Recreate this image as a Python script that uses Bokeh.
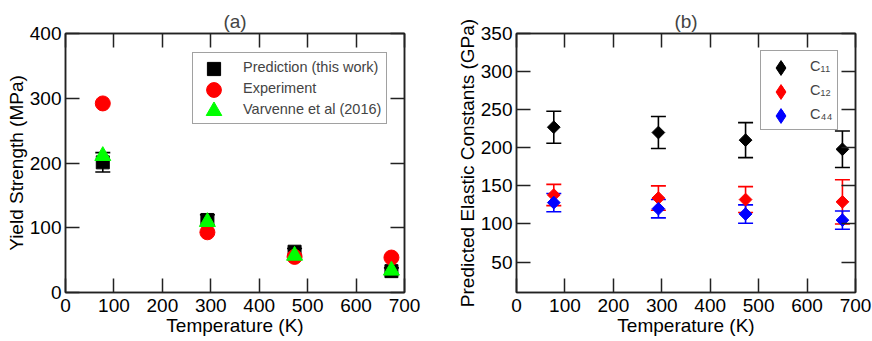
from bokeh.plotting import figure
from bokeh.models import (Range1d, LinearAxis, FixedTicker, Whisker, TeeHead,
                          ColumnDataSource, Legend, LegendItem)
from bokeh.layouts import row
from bokeh.embed import file_html
from bokeh.resources import INLINE
import numpy as np

# ---------------- data ----------------
temps = [77, 293, 473, 673]

pred = [201, 112, 63, 33]
pred_err = [15, 8, 5, 5]
exper = [292, 93, 55, 54]
varv = [211, 109, 57, 34]

c11 = [227, 220, 210, 198]
c11_err = [21, 21, 23, 24]
c12 = [138, 134, 132, 129]
c12_err = [14, 16, 17, 29]
c44 = [128, 120, 113, 105]
c44_err = [12, 12, 12, 12]

x_ticks = [0, 100, 200, 300, 400, 500, 600, 700]
ya_ticks = [0, 100, 200, 300, 400]
yb_ticks = [50, 100, 150, 200, 250, 300, 350]

FONT = "Liberation Sans"
FS = "19px"
LINE = "#222222"
H = 341
TOP = 33
BOTTOM = 49
FRAME_W = 339
X_RANGE = (0, 700)


def style_axis(ax, lab_standoff=4, ax_standoff=0, labels=True):
    ax.major_tick_in = 14
    ax.major_tick_out = 0
    ax.minor_tick_line_color = None
    ax.major_tick_line_color = LINE
    ax.major_tick_line_width = 1.5
    ax.axis_line_color = LINE
    ax.axis_line_width = 1.5
    ax.major_label_text_font = FONT
    ax.major_label_text_font_size = FS
    ax.major_label_text_color = "black"
    ax.axis_label_text_font = FONT
    ax.axis_label_text_font_size = FS
    ax.axis_label_text_font_style = "normal"
    ax.axis_label_text_color = "black"
    ax.major_label_standoff = lab_standoff
    ax.axis_label_standoff = ax_standoff
    if not labels:
        ax.major_label_text_color = None
        ax.major_label_standoff = 0


def make_fig(yr, yticks, ylabel, title, width, min_left, min_right):
    p = figure(width=width, height=H, x_range=Range1d(*X_RANGE), y_range=Range1d(*yr),
               output_backend="svg", toolbar_location=None,
               x_axis_type=None, y_axis_type=None,
               min_border_left=min_left, min_border_right=min_right,
               min_border_top=TOP, min_border_bottom=BOTTOM, title=title)
    p.title.align = "center"
    p.title.vertical_align = "top"
    p.title.text_font = FONT
    p.title.text_font_size = FS
    p.title.text_font_style = "normal"
    p.title.standoff = 0
    p.title.offset = 0
    p.grid.visible = False
    p.outline_line_color = LINE
    p.outline_line_width = 1.5
    p.background_fill_color = "white"
    p.border_fill_color = "white"

    xb = LinearAxis(ticker=FixedTicker(ticks=x_ticks), axis_label="Temperature (K)")
    style_axis(xb, 6, 0)
    p.add_layout(xb, "below")
    xt = LinearAxis(ticker=FixedTicker(ticks=x_ticks))
    style_axis(xt, labels=False)
    p.add_layout(xt, "above")
    yl = LinearAxis(ticker=FixedTicker(ticks=yticks), axis_label=ylabel)
    style_axis(yl, 4, 0)
    p.add_layout(yl, "left")
    yr_ax = LinearAxis(ticker=FixedTicker(ticks=yticks))
    style_axis(yr_ax, labels=False)
    p.add_layout(yr_ax, "right")
    return p


def add_err(p, x, y, e, color):
    src = ColumnDataSource(dict(x=x, lo=[a - b for a, b in zip(y, e)],
                                hi=[a + b for a, b in zip(y, e)]))
    w = Whisker(base="x", lower="lo", upper="hi", source=src, dimension="height",
                line_color=color, line_width=1.6,
                upper_head=TeeHead(size=15, line_color=color, line_width=1.6),
                lower_head=TeeHead(size=15, line_color=color, line_width=1.6))
    p.add_layout(w)


def build_legend(p, labels, renderers, big_sizes, lx, ly,
                 pad, gw, gh, lh, sp, standoff):
    """Boxed legend with labels + overlay legends that draw larger markers."""
    main = Legend(items=[LegendItem(label=l, renderers=[r]) for l, r in zip(labels, renderers)],
                  location=(lx, ly))
    main.glyph_width = gw
    main.glyph_height = gh
    main.label_height = lh
    main.spacing = sp
    main.padding = pad
    main.margin = 0
    main.label_standoff = standoff
    main.label_text_font = FONT
    main.label_text_font_size = "14.5px"
    main.border_line_color = "#444444"
    main.border_line_width = 1.5
    main.background_fill_color = "white"
    main.background_fill_alpha = 1
    p.add_layout(main)

    n = len(labels)
    rh = max(gh, lh)
    box_h = n * rh + (n - 1) * sp + 2 * pad
    cx = lx + pad + gw / 2
    for i, (r, g) in enumerate(zip(renderers, big_sizes)):
        cy = ly + box_h - (pad + i * (rh + sp) + rh / 2)
        ov = Legend(items=[LegendItem(label="", renderers=[r])],
                    location=(cx - g / 2, cy - g / 2))
        ov.glyph_width = g
        ov.glyph_height = g
        ov.label_height = 1
        ov.padding = 0
        ov.margin = 0
        ov.spacing = 0
        ov.label_standoff = 0
        ov.label_text_color = None
        ov.label_text_font_size = "1px"
        ov.border_line_color = None
        ov.background_fill_alpha = 0
        p.add_layout(ov)


# ---------------- panel (a) ----------------
WA = 436
pa = make_fig((0, 400), ya_ticks, "Yield Strength (MPa)", "(a)", WA, 65, WA - 65 - FRAME_W)
add_err(pa, temps, pred, pred_err, "black")
r_pred = pa.scatter(temps, pred, marker="square", size=13, color="black")
r_exp = pa.scatter(temps, exper, marker="circle", size=15, color="#ff0000")
r_var = pa.scatter(temps, varv, marker="triangle", size=16, color="#00ff00")

build_legend(pa, ["Prediction (this work)", "Experiment", "Varvenne et al (2016)"],
             [r_pred, r_exp, r_var], [33, 37, 39],
             lx=127, ly=168, pad=5, gw=32, gh=18, lh=18, sp=3, standoff=13)

# ---------------- panel (b) ----------------
WB = 872 - WA
pb = make_fig((10, 350), yb_ticks, "Predicted Elastic Constants (GPa)", "(b)",
              WB, 80, WB - 80 - FRAME_W)
add_err(pb, temps, c11, c11_err, "black")
add_err(pb, temps, c12, c12_err, "#ff0000")
add_err(pb, temps, c44, c44_err, "#0000ff")
pb.scatter(temps, c11, marker="square", size=9, angle=np.pi / 4, color="black")
pb.scatter(temps, c12, marker="square", size=9, angle=np.pi / 4, color="#ff0000")
pb.scatter(temps, c44, marker="square", size=9, angle=np.pi / 4, color="#0000ff")
# diamond-shaped renderers used only for the legend glyphs
d11 = pb.scatter(temps, c11, marker="diamond", size=9, color="black", visible=False)
d12 = pb.scatter(temps, c12, marker="diamond", size=9, color="#ff0000", visible=False)
d44 = pb.scatter(temps, c44, marker="diamond", size=9, color="#0000ff", visible=False)

build_legend(pb, ["C\u2081\u2081", "C\u2081\u2082", "C\u2084\u2084"],
             [d11, d12, d44], [37, 37, 37],
             lx=244, ly=162, pad=5, gw=31, gh=20, lh=18, sp=4, standoff=13)

layout = row(pa, pb)
open("out.html", "w").write(file_html(layout, INLINE))
